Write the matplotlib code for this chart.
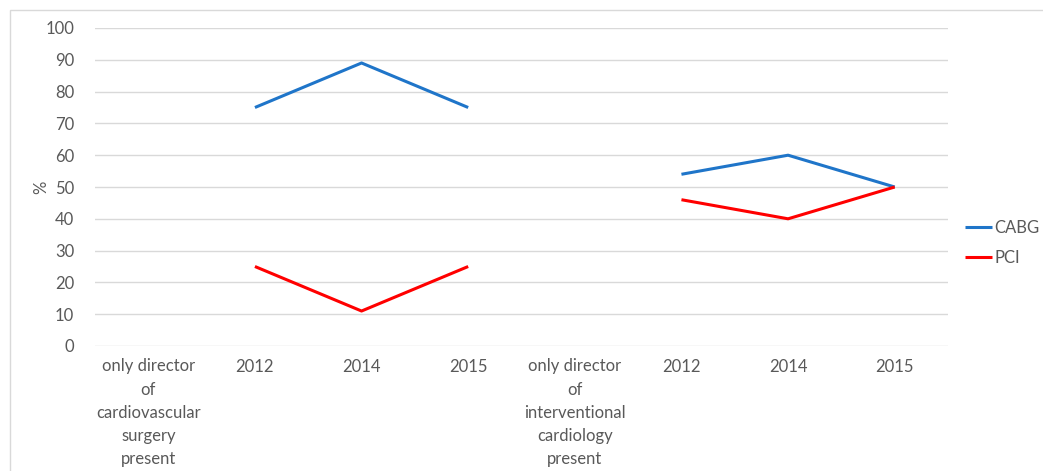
import numpy as np
import matplotlib.pyplot as plt
from matplotlib.patches import Rectangle

plt.rcParams['font.family'] = ['Lato', 'DejaVu Sans']

categories = [
    'only director\nof\ncardiovascular\nsurgery\npresent',
    '2012', '2014', '2015',
    'only director\nof\ninterventional\ncardiology\npresent',
    '2012', '2014', '2015',
]
cabg = [np.nan, 75, 89, 75, np.nan, 54, 60, 50]
pci = [np.nan, 25, 11, 25, np.nan, 46, 40, 50]
yticks = list(range(0, 101, 10))

txt = '#595959'
fs = 12
fig = plt.figure(figsize=(10.43, 4.71), dpi=100)
fig.patches.append(Rectangle((10 / 1043, -0.01), 1.02, (471 - 10) / 471 + 0.01,
                             transform=fig.transFigure, fill=False,
                             edgecolor='#d9d9d9', linewidth=1))
ax = fig.add_axes([95 / 1043, 125 / 471, 853 / 1043, 318 / 471])

x = np.arange(len(categories))
ax.plot(x, cabg, color='#1f75c9', lw=2.2, label='CABG', solid_capstyle='butt')
ax.plot(x, pci, color='#ff0000', lw=2.2, label='PCI', solid_capstyle='butt')

ax.set_xlim(-0.5, len(categories) - 0.5)
ax.set_ylim(0, 100)
ax.set_yticks(yticks)
ax.set_xticks(x)
ax.set_xticklabels(categories, linespacing=1.55)
ax.grid(axis='y', color='#d9d9d9', lw=1)
ax.set_axisbelow(True)
for s in ax.spines.values():
    s.set_visible(False)
ax.tick_params(length=0, labelsize=fs, colors=txt, pad=9)
ax.tick_params(axis='y', pad=15)
for lbl in ax.get_xticklabels():
    lbl.set_verticalalignment('top')
ax.set_ylabel('%', color=txt, fontsize=fs, labelpad=-3)

fig.legend(loc='center left', bbox_to_anchor=(950 / 1043, (471 - 243) / 471),
           frameon=False, fontsize=fs, labelcolor=txt, handlelength=1.6,
           handletextpad=0.15, labelspacing=0.85)

fig.savefig('out.png', dpi=100)
